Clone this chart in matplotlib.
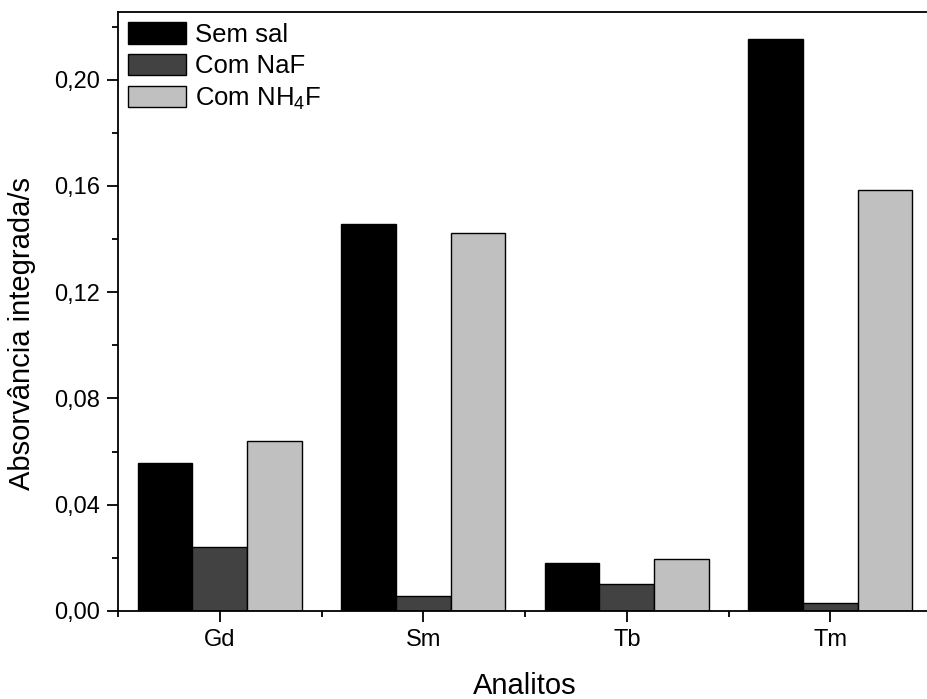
"""Absorvância integrada por analito, com e sem modificador (NaF / NH4F)."""
import matplotlib
matplotlib.use("Agg")
import matplotlib.pyplot as plt
import numpy as np
from matplotlib.ticker import FixedLocator, FuncFormatter, MultipleLocator

plt.rcParams["font.family"] = ["Liberation Sans", "DejaVu Sans"]
plt.rcParams["mathtext.fontset"] = "custom"
plt.rcParams["mathtext.rm"] = "Liberation Sans"

analitos = ["Gd", "Sm", "Tb", "Tm"]
series = ["Sem sal", "Com NaF", "Com NH$_\\mathregular{4}$F"]
sem_sal = [0.0557, 0.1456, 0.0181, 0.2155]
com_naf = [0.0240, 0.0058, 0.0102, 0.0030]
com_nh4f = [0.0641, 0.1424, 0.0196, 0.1584]
cores = ["#000000", "#424242", "#c0c0c0"]

W, H = 927, 699
fig = plt.figure(figsize=(W / 100, H / 100), dpi=100)
# eixo estende-se além da borda direita, como no original
ax = fig.add_axes([118 / W, (H - 611) / H, 814 / W, 599 / H])

x = np.arange(len(analitos))
bw = 0.268
for i, (vals, nome, cor) in enumerate(zip([sem_sal, com_naf, com_nh4f], series, cores)):
    ax.bar(x + (i - 1) * bw, vals, width=bw, color=cor, edgecolor="black",
           linewidth=1.0, label=nome)

ax.set_xlim(-0.5, 3.5)
ax.set_ylim(0, 0.2255)
ax.xaxis.set_major_locator(FixedLocator(x))
ax.set_xticklabels(analitos)
ax.xaxis.set_minor_locator(FixedLocator([-0.5, 0.5, 1.5, 2.5, 3.5]))
ax.yaxis.set_major_locator(MultipleLocator(0.04))
ax.yaxis.set_minor_locator(MultipleLocator(0.02))
ax.yaxis.set_major_formatter(FuncFormatter(lambda v, p: f"{v:.2f}".replace(".", ",")))

for s in ax.spines.values():
    s.set_linewidth(1.3)
ax.tick_params(which="major", direction="out", length=8, width=1.3, labelsize=17, pad=5)
ax.tick_params(which="minor", direction="out", length=4, width=1.3)
ax.tick_params(top=False, right=False, which="both")

ax.set_xlabel("Analitos", fontsize=21, va="top")
ax.xaxis.set_label_coords(0.5, -0.102)
ax.set_ylabel("Absorvância integrada/s", fontsize=21, va="center")
ax.yaxis.set_label_coords(-0.118, 0.463)

ax.legend(loc="upper left", bbox_to_anchor=(0.0127, 0.983), frameon=False, fontsize=18.5,
          handlelength=2.26, handleheight=0.9, handletextpad=0.32, labelspacing=0.28,
          borderpad=0, borderaxespad=0)

fig.savefig("out.png", dpi=100)
